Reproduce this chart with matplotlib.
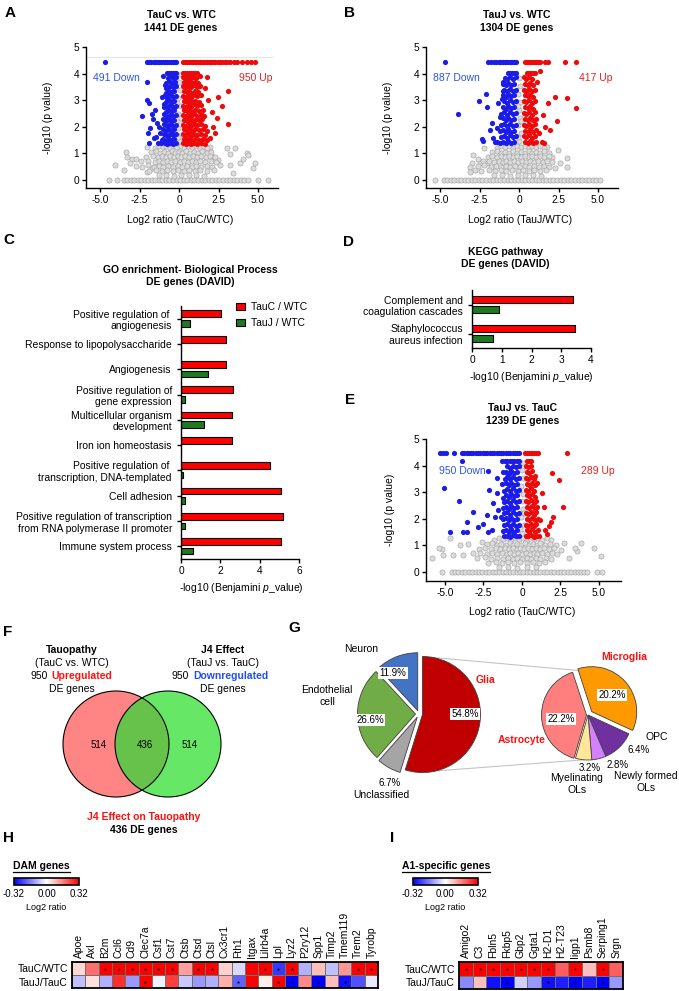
import numpy as np
import matplotlib
matplotlib.use("Agg")
import matplotlib.pyplot as plt
from matplotlib.patches import Circle, Patch
from matplotlib.lines import Line2D
from matplotlib.colors import Normalize
from matplotlib.cm import ScalarMappable

plt.rcParams['font.family'] = ['Liberation Sans', 'DejaVu Sans']
plt.rcParams['mathtext.fontset'] = 'custom'
plt.rcParams['mathtext.rm'] = 'Liberation Sans'
plt.rcParams['mathtext.it'] = 'Liberation Sans:italic'
plt.rcParams['axes.unicode_minus'] = False

# ======================= DATA =======================
# ---- Panel A: TauC vs WTC volcano ----
A_zero_x = [-4.47, -3.94, -3.52, -3.31, -3.06, -2.86, -2.61, -2.42, -2.17, -1.96, -1.71, -1.52, -1.27,
            -1.06, -0.82, -0.61, -0.37, -0.16, 0.08, 0.31, 0.52, 0.77, 0.96, 1.21, 1.43, 1.64, 1.89, 2.08,
            2.33, 2.55, 2.76, 3.02, 3.21, 3.46, 3.67, 3.92, 4.13, 4.39, 5.0, 5.65]
A_ns = [(-3.35, 1.07), (-3.31, 0.88), (-3.0, 0.78), (-2.72, 0.78), (-4.05, 0.56), (-3.52, 0.38), (-3.14, 0.63),
        (-2.05, 1.25), (-2.36, 0.5), (-2.05, 0.31), (-1.73, 0.44), (3.02, 1.19), (3.54, 1.19), (3.23, 0.98),
        (4.28, 1.03), (4.39, 0.94), (3.86, 0.63), (4.03, 0.78), (3.23, 0.56), (4.81, 0.63), (4.7, 0.44),
        (2.49, 0.75), (1.96, 1.25), (2.17, 0.88), (2.6, 0.56), (3.44, 0.25),
        (-1.55, 1.22), (-1.3, 1.28), (-1.05, 1.24), (-0.85, 1.27), (-0.6, 1.22), (-0.4, 1.26), (-0.15, 1.23),
        (0.1, 1.27), (0.3, 1.22), (0.55, 1.26), (0.8, 1.23), (1.05, 1.27), (1.3, 1.22), (1.6, 1.25), (1.8, 1.2),
        (-1.8, 1.05), (-1.45, 1.08), (-1.2, 1.02), (-0.95, 1.07), (-0.7, 1.03), (-0.45, 1.08), (-0.25, 1.02),
        (0.0, 1.06), (0.2, 1.03), (0.45, 1.08), (0.7, 1.02), (0.95, 1.06), (1.2, 1.03), (1.45, 1.08),
        (1.75, 1.02), (2.0, 1.06),
        (-2.1, 0.88), (-1.65, 0.9), (-1.35, 0.86), (-1.1, 0.9), (-0.85, 0.86), (-0.6, 0.9), (-0.35, 0.86),
        (-0.1, 0.9), (0.15, 0.86), (0.4, 0.9), (0.65, 0.86), (0.9, 0.9), (1.15, 0.86), (1.4, 0.9), (1.7, 0.86),
        (1.95, 0.92), (2.3, 0.85),
        (-2.4, 0.7), (-1.95, 0.72), (-1.55, 0.68), (-1.25, 0.72), (-1.0, 0.68), (-0.75, 0.72), (-0.5, 0.68),
        (-0.25, 0.72), (0.05, 0.68), (0.3, 0.72), (0.55, 0.68), (0.8, 0.72), (1.05, 0.68), (1.35, 0.72),
        (1.65, 0.68), (2.0, 0.72), (2.35, 0.66),
        (-2.7, 0.52), (-2.0, 0.55), (-1.6, 0.5), (-1.3, 0.54), (-1.0, 0.5), (-0.7, 0.54), (-0.4, 0.5),
        (-0.1, 0.54), (0.2, 0.5), (0.5, 0.54), (0.8, 0.5), (1.1, 0.54), (1.4, 0.5), (1.75, 0.54), (2.1, 0.5),
        (-1.9, 0.35), (-1.45, 0.38), (-1.1, 0.33), (-0.75, 0.37), (-0.4, 0.33), (-0.05, 0.37), (0.3, 0.33),
        (0.65, 0.37), (1.0, 0.33), (1.35, 0.37), (1.75, 0.33), (2.2, 0.36),
        (-1.3, 0.18), (-0.8, 0.2), (-0.35, 0.16), (0.15, 0.2), (0.6, 0.17), (1.1, 0.2), (1.6, 0.16),
        (0.02, 1.45), (0.12, 1.7), (-0.08, 1.95), (0.06, 2.2), (-0.04, 2.5), (0.1, 2.8), (-0.06, 3.1),
        (0.04, 3.4), (0.0, 3.7), (0.1, 4.0), (-0.1, 1.6), (0.14, 2.35), (-0.12, 2.9)]
A_down = [(-4.68, 4.42), (-2.05, 4.42), (-1.92, 4.42), (-1.78, 4.42), (-1.62, 4.42), (-1.5, 4.42), (-1.38, 4.42),
          (-1.25, 4.42), (-1.12, 4.42), (-1.0, 4.42), (-0.88, 4.42), (-0.76, 4.42), (-0.64, 4.42), (-0.52, 4.42),
          (-0.4, 4.42), (-0.28, 4.42), (-0.2, 4.42),
          (-0.78, 4.02), (-0.65, 4.02), (-0.52, 4.02), (-0.4, 4.02), (-0.28, 4.02), (-0.2, 4.02),
          (-2.05, 3.7), (-0.99, 3.91), (-2.05, 3.0), (-1.9, 2.88), (-2.32, 2.41), (-1.1, 3.11), (-1.67, 2.28),
          (-1.84, 1.94), (-1.94, 1.75), (-1.62, 1.57), (-1.88, 1.4), (-1.2, 1.75), (-1.31, 1.38), (-1.41, 2.13),
          (-0.95, 2.76), (-0.82, 3.45), (-1.52, 2.63), (-1.73, 2.5), (-1.05, 2.3), (-1.25, 2.0), (-1.45, 1.6),
          (-1.1, 1.5),
          (-0.22, 3.88), (-0.38, 3.84), (-0.55, 3.9), (-0.7, 3.82),
          (-0.28, 3.7), (-0.45, 3.66), (-0.62, 3.72), (-0.8, 3.64),
          (-0.22, 3.52), (-0.4, 3.5), (-0.58, 3.55), (-0.75, 3.48), (-0.9, 3.56),
          (-0.3, 3.34), (-0.48, 3.3), (-0.66, 3.36), (-0.84, 3.28),
          (-0.22, 3.16), (-0.4, 3.12), (-0.58, 3.18), (-0.76, 3.1), (-0.92, 3.2),
          (-0.3, 2.98), (-0.48, 2.94), (-0.66, 3.0), (-0.84, 2.92),
          (-0.22, 2.8), (-0.4, 2.76), (-0.58, 2.82), (-0.76, 2.74), (-0.94, 2.84),
          (-0.3, 2.62), (-0.48, 2.58), (-0.66, 2.64), (-0.84, 2.56),
          (-0.22, 2.44), (-0.4, 2.4), (-0.58, 2.46), (-0.76, 2.38), (-0.96, 2.48),
          (-0.3, 2.26), (-0.48, 2.22), (-0.66, 2.28), (-0.84, 2.2),
          (-0.22, 2.08), (-0.4, 2.04), (-0.58, 2.1), (-0.76, 2.02), (-0.98, 2.12),
          (-0.3, 1.9), (-0.48, 1.86), (-0.66, 1.92), (-0.84, 1.84), (-1.02, 1.9),
          (-0.22, 1.72), (-0.4, 1.68), (-0.58, 1.74), (-0.76, 1.66), (-0.94, 1.72),
          (-0.3, 1.54), (-0.48, 1.5), (-0.66, 1.56), (-0.84, 1.48), (-1.0, 1.55),
          (-0.22, 1.38), (-0.4, 1.36), (-0.58, 1.4), (-0.76, 1.35), (-0.92, 1.38), (-1.15, 1.4)]
A_up = [(0.27, 4.42), (0.4, 4.42), (0.5, 4.42), (0.6, 4.42), (0.7, 4.42), (0.8, 4.42), (0.9, 4.42), (1.0, 4.42),
        (1.1, 4.42), (1.2, 4.42), (1.3, 4.42), (1.4, 4.42), (1.5, 4.42), (1.6, 4.42), (1.7, 4.42), (1.8, 4.42),
        (1.9, 4.42), (2.0, 4.42), (2.1, 4.42), (2.2, 4.42), (2.3, 4.42), (2.45, 4.42), (2.6, 4.42), (2.75, 4.42),
        (2.9, 4.42), (3.05, 4.42), (3.2, 4.42), (3.45, 4.42), (3.7, 4.42), (4.0, 4.42), (4.3, 4.42), (4.55, 4.42),
        (4.8, 4.42),
        (0.27, 4.02), (0.4, 4.02), (0.52, 4.02), (0.65, 4.02), (0.78, 4.02), (0.9, 4.02), (1.02, 4.02), (1.12, 4.02),
        (3.12, 3.35), (2.49, 3.13), (2.7, 2.78), (3.12, 2.1), (1.75, 3.88), (1.33, 3.91), (2.17, 2.0), (2.38, 2.32),
        (1.96, 1.57), (2.28, 1.75), (1.65, 3.45), (1.86, 3.0), (1.43, 2.44), (2.07, 2.57),
        (0.28, 3.88), (0.42, 3.84), (0.58, 3.9), (0.74, 3.82), (0.9, 3.86), (1.1, 3.84),
        (0.3, 3.7), (0.46, 3.66), (0.62, 3.72), (0.8, 3.64), (0.98, 3.7), (1.2, 3.66),
        (0.28, 3.52), (0.44, 3.5), (0.6, 3.55), (0.78, 3.48), (0.96, 3.56), (1.15, 3.5), (1.35, 3.55),
        (0.3, 3.34), (0.48, 3.3), (0.66, 3.36), (0.84, 3.28), (1.02, 3.34), (1.22, 3.3),
        (0.28, 3.16), (0.44, 3.12), (0.6, 3.18), (0.78, 3.1), (0.96, 3.2), (1.16, 3.14), (1.4, 3.18),
        (0.3, 2.98), (0.48, 2.94), (0.66, 3.0), (0.84, 2.92), (1.02, 2.98), (1.24, 2.94),
        (0.28, 2.8), (0.44, 2.76), (0.6, 2.82), (0.78, 2.74), (0.96, 2.84), (1.16, 2.78), (1.38, 2.82),
        (0.3, 2.62), (0.48, 2.58), (0.66, 2.64), (0.84, 2.56), (1.02, 2.62), (1.24, 2.6), (1.5, 2.64),
        (0.28, 2.44), (0.44, 2.4), (0.6, 2.46), (0.78, 2.38), (0.96, 2.48), (1.16, 2.42), (1.38, 2.46), (1.6, 2.4),
        (0.3, 2.26), (0.48, 2.22), (0.66, 2.28), (0.84, 2.2), (1.02, 2.26), (1.24, 2.24), (1.48, 2.28),
        (0.28, 2.08), (0.44, 2.04), (0.6, 2.1), (0.78, 2.02), (0.96, 2.1), (1.16, 2.06), (1.38, 2.1), (1.62, 2.04),
        (0.3, 1.9), (0.48, 1.86), (0.66, 1.92), (0.84, 1.84), (1.02, 1.9), (1.24, 1.88), (1.5, 1.92), (1.78, 1.86),
        (0.28, 1.72), (0.44, 1.68), (0.6, 1.74), (0.78, 1.66), (0.96, 1.72), (1.16, 1.7), (1.38, 1.74), (1.64, 1.68),
        (0.3, 1.54), (0.48, 1.5), (0.66, 1.56), (0.84, 1.48), (1.02, 1.54), (1.24, 1.52), (1.5, 1.56), (1.8, 1.5),
        (0.28, 1.38), (0.44, 1.36), (0.6, 1.4), (0.78, 1.35), (0.96, 1.38), (1.16, 1.36), (1.4, 1.4), (1.66, 1.36)]

# ---- Panel B: TauJ vs WTC volcano ----
B_zero_x = [-5.32, -4.79, -4.57, -4.33, -4.12, -3.88, -3.67, -3.43, -3.22, -2.98, -2.77, -2.53, -2.32, -2.08,
            -1.87, -1.63, -1.42, -1.18, -0.97, -0.73, -0.52, -0.28, -0.07, 0.17, 0.38, 0.62, 0.83, 1.07, 1.28,
            1.52, 1.73, 1.97, 2.18, 2.42, 2.63, 2.87, 3.08, 3.32, 3.53, 3.77, 3.98, 4.22, 4.43, 4.67, 4.9, 5.13]
B_ns = [(-2.89, 0.94), (-3.0, 0.63), (-3.1, 0.5), (-2.78, 0.38), (-2.47, 0.63), (-2.05, 0.63), (-3.14, 0.31),
        (2.49, 1.13), (2.6, 0.63), (3.02, 0.81), (3.02, 0.5), (1.75, 1.25), (2.07, 0.88), (2.28, 0.44),
        (-2.2, 1.2), (-2.6, 0.8),
        (-1.4, 1.22), (-1.15, 1.27), (-0.9, 1.23), (-0.65, 1.27), (-0.4, 1.22), (-0.15, 1.26), (0.1, 1.23),
        (0.35, 1.27), (0.6, 1.22), (0.85, 1.26), (1.1, 1.23), (1.35, 1.27), (1.6, 1.22),
        (-1.7, 1.05), (-1.4, 1.08), (-1.15, 1.02), (-0.9, 1.07), (-0.65, 1.03), (-0.4, 1.08), (-0.15, 1.02),
        (0.1, 1.06), (0.35, 1.03), (0.6, 1.08), (0.85, 1.02), (1.1, 1.06), (1.35, 1.03), (1.6, 1.08), (1.9, 1.02),
        (-2.0, 0.88), (-1.7, 0.9), (-1.4, 0.86), (-1.15, 0.9), (-0.9, 0.86), (-0.65, 0.9), (-0.4, 0.86),
        (-0.15, 0.9), (0.1, 0.86), (0.35, 0.9), (0.6, 0.86), (0.85, 0.9), (1.1, 0.86), (1.35, 0.9), (1.6, 0.86),
        (1.9, 0.9),
        (-2.3, 0.7), (-1.9, 0.72), (-1.6, 0.68), (-1.3, 0.72), (-1.05, 0.68), (-0.8, 0.72), (-0.55, 0.68),
        (-0.3, 0.72), (-0.05, 0.68), (0.2, 0.72), (0.45, 0.68), (0.7, 0.72), (0.95, 0.68), (1.2, 0.72),
        (1.5, 0.68), (1.8, 0.72), (2.1, 0.68),
        (-2.6, 0.52), (-2.2, 0.55), (-1.8, 0.5), (-1.45, 0.54), (-1.15, 0.5), (-0.85, 0.54), (-0.55, 0.5),
        (-0.25, 0.54), (0.05, 0.5), (0.35, 0.54), (0.65, 0.5), (0.95, 0.54), (1.25, 0.5), (1.55, 0.54), (1.9, 0.5),
        (-2.4, 0.35), (-1.9, 0.38), (-1.5, 0.33), (-1.15, 0.37), (-0.8, 0.33), (-0.45, 0.37), (-0.1, 0.33),
        (0.25, 0.37), (0.6, 0.33), (0.95, 0.37), (1.3, 0.33), (1.7, 0.37),
        (-1.6, 0.18), (-1.1, 0.2), (-0.6, 0.16), (-0.1, 0.2), (0.4, 0.17), (0.9, 0.2), (1.4, 0.16),
        (0.02, 1.45), (0.1, 1.75), (-0.06, 2.05), (0.05, 2.35), (-0.02, 2.65), (0.08, 2.95), (-0.05, 3.25),
        (0.04, 3.55), (0.0, 3.85), (-0.1, 1.6), (0.12, 2.2), (-0.1, 2.8)]
B_down = [(-4.68, 4.42), (-1.94, 4.42), (-1.8, 4.42), (-1.6, 4.42), (-1.45, 4.42), (-1.3, 4.42), (-1.2, 4.42),
          (-1.1, 4.42), (-1.0, 4.42), (-0.9, 4.42), (-0.8, 4.42), (-0.7, 4.42), (-0.6, 4.42), (-0.5, 4.42),
          (-0.4, 4.42), (-0.3, 4.42), (-0.22, 4.42),
          (-0.7, 4.02), (-0.58, 4.02), (-0.45, 4.02), (-0.32, 4.02), (-0.22, 4.02),
          (-3.84, 2.5), (-2.57, 2.97), (-2.11, 3.25), (-2.05, 2.73), (-1.73, 2.13), (-1.84, 1.88), (-1.67, 1.57),
          (-2.36, 1.53), (-2.3, 1.47), (-1.03, 3.36), (-1.1, 3.03), (-1.35, 2.88), (-1.24, 2.38), (-1.41, 1.94),
          (-1.52, 1.44), (-0.99, 3.7),
          (-0.22, 3.86), (-0.4, 3.8), (-0.58, 3.88), (-0.76, 3.78), (-0.92, 3.84),
          (-0.3, 3.62), (-0.5, 3.58), (-0.68, 3.66), (-0.86, 3.56), (-1.02, 3.62),
          (-0.22, 3.4), (-0.4, 3.36), (-0.58, 3.44), (-0.76, 3.34), (-0.94, 3.4),
          (-0.3, 3.18), (-0.5, 3.14), (-0.68, 3.22), (-0.86, 3.12), (-1.04, 3.2),
          (-0.22, 2.96), (-0.4, 2.92), (-0.58, 3.0), (-0.76, 2.9), (-0.94, 2.98),
          (-0.3, 2.74), (-0.5, 2.7), (-0.68, 2.78), (-0.86, 2.68), (-1.04, 2.76),
          (-0.22, 2.52), (-0.4, 2.48), (-0.58, 2.56), (-0.76, 2.46), (-0.94, 2.54), (-1.12, 2.5),
          (-0.3, 2.3), (-0.5, 2.26), (-0.68, 2.34), (-0.86, 2.24), (-1.04, 2.32),
          (-0.22, 2.08), (-0.4, 2.04), (-0.58, 2.12), (-0.76, 2.02), (-0.94, 2.1), (-1.14, 2.06),
          (-0.3, 1.86), (-0.5, 1.82), (-0.68, 1.9), (-0.86, 1.8), (-1.04, 1.88), (-1.22, 1.84),
          (-0.22, 1.64), (-0.4, 1.6), (-0.58, 1.68), (-0.76, 1.58), (-0.94, 1.66), (-1.14, 1.62),
          (-0.3, 1.44), (-0.5, 1.4), (-0.68, 1.46), (-0.86, 1.38), (-1.04, 1.44), (-1.24, 1.4), (-1.42, 1.42)]
B_up = [(0.38, 4.42), (0.48, 4.42), (0.58, 4.42), (0.68, 4.42), (0.78, 4.42), (0.88, 4.42), (0.98, 4.42),
        (1.1, 4.42), (1.22, 4.42), (1.33, 4.42), (1.65, 4.42), (1.86, 4.42), (2.91, 4.42), (3.61, 4.42),
        (0.5, 4.02), (0.62, 4.02), (0.75, 4.02), (0.88, 4.02), (1.0, 4.02),
        (1.33, 4.11), (1.12, 3.7), (2.28, 3.13), (3.06, 3.1), (3.61, 2.69), (1.86, 2.88), (1.54, 2.44),
        (2.38, 2.23), (1.65, 2.0), (1.96, 1.88), (1.43, 1.44), (1.58, 1.38), (1.29, 1.75),
        (0.3, 3.86), (0.46, 3.8), (0.62, 3.88), (0.8, 3.8),
        (0.36, 3.62), (0.54, 3.58), (0.72, 3.66), (0.9, 3.56),
        (0.3, 3.4), (0.46, 3.36), (0.62, 3.44), (0.8, 3.34), (0.98, 3.4),
        (0.36, 3.18), (0.54, 3.14), (0.72, 3.22), (0.9, 3.12),
        (0.3, 2.96), (0.46, 2.92), (0.62, 3.0), (0.8, 2.9), (1.0, 2.98),
        (0.36, 2.74), (0.54, 2.7), (0.72, 2.78), (0.9, 2.68),
        (0.3, 2.52), (0.46, 2.48), (0.62, 2.56), (0.8, 2.46), (1.0, 2.54),
        (0.36, 2.3), (0.54, 2.26), (0.72, 2.34), (0.9, 2.24), (1.08, 2.3),
        (0.3, 2.08), (0.46, 2.04), (0.62, 2.12), (0.8, 2.02), (1.0, 2.1),
        (0.36, 1.86), (0.54, 1.82), (0.72, 1.9), (0.9, 1.8), (1.1, 1.88),
        (0.3, 1.64), (0.46, 1.6), (0.62, 1.68), (0.8, 1.58), (1.0, 1.66),
        (0.36, 1.44), (0.54, 1.4), (0.72, 1.46), (0.9, 1.38), (1.08, 1.44)]

# ---- Panel E: TauJ vs TauC volcano ----
E_zero_x = [-5.22, -4.57, -4.35, -4.12, -3.91, -3.68, -3.46, -3.24, -3.01, -2.8, -2.57, -2.35, -2.13, -1.9,
            -1.69, -1.46, -1.24, -1.02, -0.79, -0.58, -0.35, -0.13, 0.09, 0.32, 0.53, 0.76, 0.98, 1.2, 1.43,
            1.64, 1.87, 2.09, 2.31, 2.54, 2.75, 2.98, 3.2, 3.42, 3.65, 3.86, 4.05, 4.2, 4.85, 5.17]
E_ns = [(-5.87, 0.51), (-5.22, 0.86), (-4.46, 0.64), (-4.03, 1.02), (-3.49, 1.06), (-3.81, 0.64), (-5.1, 0.64),
        (4.69, 0.89), (5.13, 0.6), (3.82, 1.08), (3.6, 0.77), (3.06, 0.51), (2.52, 0.83), (-5.37, 0.89),
        (-4.67, 1.27), (-2.61, 1.14), (2.7, 1.08), (3.46, 0.89),
        (-1.8, 1.22), (-1.5, 1.27), (-1.2, 1.23), (-0.95, 1.27), (-0.7, 1.22), (-0.45, 1.26), (-0.2, 1.23),
        (0.05, 1.27), (0.3, 1.22), (0.55, 1.26), (0.8, 1.23), (1.05, 1.27), (1.3, 1.22), (1.6, 1.26), (1.9, 1.2),
        (-2.3, 1.05), (-1.95, 1.08), (-1.65, 1.02), (-1.35, 1.07), (-1.05, 1.03), (-0.8, 1.08), (-0.55, 1.02),
        (-0.3, 1.06), (-0.05, 1.03), (0.2, 1.08), (0.45, 1.02), (0.7, 1.06), (0.95, 1.03), (1.2, 1.08),
        (1.5, 1.02), (1.8, 1.06), (2.2, 1.02),
        (-2.8, 0.88), (-2.4, 0.9), (-2.0, 0.86), (-1.7, 0.9), (-1.4, 0.86), (-1.1, 0.9), (-0.85, 0.86),
        (-0.6, 0.9), (-0.35, 0.86), (-0.1, 0.9), (0.15, 0.86), (0.4, 0.9), (0.65, 0.86), (0.9, 0.9),
        (1.15, 0.86), (1.45, 0.9), (1.75, 0.86), (2.1, 0.9),
        (-3.2, 0.7), (-2.7, 0.72), (-2.3, 0.68), (-1.95, 0.72), (-1.6, 0.68), (-1.3, 0.72), (-1.0, 0.68),
        (-0.75, 0.72), (-0.5, 0.68), (-0.25, 0.72), (0.0, 0.68), (0.25, 0.72), (0.5, 0.68), (0.75, 0.72),
        (1.0, 0.68), (1.3, 0.72), (1.6, 0.68), (1.95, 0.72), (2.3, 0.68),
        (-2.9, 0.52), (-2.4, 0.55), (-2.0, 0.5), (-1.6, 0.54), (-1.25, 0.5), (-0.9, 0.54), (-0.6, 0.5),
        (-0.3, 0.54), (0.0, 0.5), (0.3, 0.54), (0.6, 0.5), (0.9, 0.54), (1.2, 0.5), (1.55, 0.54), (1.9, 0.5),
        (-2.2, 0.35), (-1.7, 0.38), (-1.3, 0.33), (-0.9, 0.37), (-0.5, 0.33), (-0.1, 0.37), (0.3, 0.33),
        (0.7, 0.37), (1.1, 0.33), (1.5, 0.37),
        (-1.5, 0.18), (-0.9, 0.2), (-0.3, 0.16), (0.3, 0.2), (0.9, 0.17),
        (0.02, 1.45), (0.1, 1.75), (-0.06, 2.05), (0.05, 2.35), (-0.02, 2.65), (0.08, 2.95), (-0.05, 3.25),
        (0.04, 3.55), (0.0, 3.85), (0.06, 4.1), (-0.1, 1.6), (0.12, 2.2)]
E_down = [(-5.32, 4.49), (-5.1, 4.49), (-4.9, 4.49), (-4.4, 4.49), (-3.9, 4.49), (-3.75, 4.49), (-3.6, 4.49),
          (-3.45, 4.49), (-3.3, 4.49), (-3.15, 4.49), (-3.0, 4.49), (-2.85, 4.49), (-2.7, 4.49), (-2.55, 4.49),
          (-2.4, 4.49), (-2.25, 4.49), (-2.1, 4.49), (-1.95, 4.49), (-1.8, 4.49), (-1.65, 4.49), (-1.5, 4.49),
          (-1.35, 4.49), (-1.2, 4.49), (-1.05, 4.49), (-0.9, 4.49), (-0.75, 4.49), (-0.6, 4.49), (-0.45, 4.49),
          (-0.3, 4.49), (-0.22, 4.49),
          (-3.87, 4.18), (-1.27, 4.18), (-1.1, 4.18), (-0.95, 4.18), (-0.8, 4.18), (-0.65, 4.18), (-0.5, 4.18),
          (-0.35, 4.18), (-0.22, 4.18),
          (-5.06, 3.15), (-4.09, 2.68), (-3.2, 2.27), (-3.59, 1.89), (-4.67, 1.51), (-3.81, 1.51), (-3.59, 1.51),
          (-2.84, 1.7), (-2.56, 1.82), (-2.15, 3.1), (-2.29, 2.14), (-1.85, 2.58), (-1.64, 2.96), (-2.19, 1.51),
          (-1.97, 1.57), (-1.75, 2.08), (-1.53, 2.33), (-1.25, 3.77), (-0.99, 3.71), (-2.19, 3.8), (-1.64, 3.55),
          (-1.32, 3.3), (-1.21, 2.8), (-1.38, 2.08),
          (-0.22, 3.98), (-0.4, 3.94), (-0.58, 4.0), (-0.76, 3.92), (-0.94, 3.98),
          (-0.3, 3.76), (-0.5, 3.72), (-0.68, 3.8), (-0.86, 3.7), (-1.04, 3.76),
          (-0.22, 3.54), (-0.4, 3.5), (-0.58, 3.58), (-0.76, 3.48), (-0.94, 3.56), (-1.12, 3.5),
          (-0.3, 3.32), (-0.5, 3.28), (-0.68, 3.36), (-0.86, 3.26), (-1.04, 3.34),
          (-0.22, 3.1), (-0.4, 3.06), (-0.58, 3.14), (-0.76, 3.04), (-0.94, 3.12), (-1.14, 3.06),
          (-0.3, 2.88), (-0.5, 2.84), (-0.68, 2.92), (-0.86, 2.82), (-1.04, 2.9),
          (-0.22, 2.66), (-0.4, 2.62), (-0.58, 2.7), (-0.76, 2.6), (-0.94, 2.68), (-1.14, 2.64),
          (-0.3, 2.44), (-0.5, 2.4), (-0.68, 2.48), (-0.86, 2.38), (-1.04, 2.46), (-1.24, 2.42),
          (-0.22, 2.22), (-0.4, 2.18), (-0.58, 2.26), (-0.76, 2.16), (-0.94, 2.24), (-1.14, 2.2),
          (-0.3, 2.0), (-0.5, 1.96), (-0.68, 2.04), (-0.86, 1.94), (-1.04, 2.02), (-1.24, 1.98),
          (-0.22, 1.78), (-0.4, 1.74), (-0.58, 1.82), (-0.76, 1.72), (-0.94, 1.8), (-1.14, 1.76),
          (-0.3, 1.56), (-0.5, 1.52), (-0.68, 1.6), (-0.86, 1.5), (-1.04, 1.58), (-1.24, 1.54),
          (-0.22, 1.36), (-0.4, 1.34), (-0.58, 1.38), (-0.76, 1.32), (-0.94, 1.36), (-1.14, 1.34)]
E_up = [(0.2, 4.49), (0.32, 4.49), (0.44, 4.49), (0.56, 4.49), (0.68, 4.49), (0.8, 4.49), (0.92, 4.49),
        (1.05, 4.49), (2.9, 4.49),
        (0.3, 4.18), (0.45, 4.18), (0.6, 4.18),
        (0.84, 3.61), (1.93, 3.74), (2.43, 3.47), (2.65, 2.43), (1.99, 2.08), (1.88, 1.86), (1.73, 1.73),
        (1.3, 2.96), (1.41, 2.46), (1.19, 1.96), (1.52, 1.58), (1.62, 1.44), (0.97, 3.34),
        (0.26, 3.98), (0.42, 3.94), (0.58, 4.0),
        (0.3, 3.76), (0.48, 3.72), (0.66, 3.8),
        (0.26, 3.54), (0.42, 3.5), (0.58, 3.58), (0.76, 3.48),
        (0.3, 3.32), (0.48, 3.28), (0.66, 3.36), (0.84, 3.26),
        (0.26, 3.1), (0.42, 3.06), (0.58, 3.14), (0.76, 3.04),
        (0.3, 2.88), (0.48, 2.84), (0.66, 2.92), (0.84, 2.82),
        (0.26, 2.66), (0.42, 2.62), (0.58, 2.7), (0.76, 2.6), (0.94, 2.66),
        (0.3, 2.44), (0.48, 2.4), (0.66, 2.48), (0.84, 2.38), (1.0, 2.44),
        (0.26, 2.22), (0.42, 2.18), (0.58, 2.26), (0.76, 2.16), (0.94, 2.24),
        (0.3, 2.0), (0.48, 1.96), (0.66, 2.04), (0.84, 1.94), (1.02, 2.0),
        (0.26, 1.78), (0.42, 1.74), (0.58, 1.82), (0.76, 1.72), (0.94, 1.8),
        (0.3, 1.56), (0.48, 1.52), (0.66, 1.6), (0.84, 1.5), (1.02, 1.56),
        (0.26, 1.36), (0.42, 1.34), (0.58, 1.38), (0.76, 1.32), (0.94, 1.36), (1.12, 1.34)]

# ---- Panel C: GO enrichment ----
go_terms = ['Positive regulation of \nangiogenesis', 'Response to lipopolysaccharide', 'Angiogenesis',
            'Positive regulation of\ngene expression', 'Multicellular organism\ndevelopment',
            'Iron ion homeostasis', 'Positive regulation of \ntranscription, DNA-templated', 'Cell adhesion',
            'Positive regulation of transcription\nfrom RNA polymerase II promoter', 'Immune system process']
go_tauc = [2.03, 2.28, 2.28, 2.62, 2.58, 2.6, 4.53, 5.1, 5.2, 5.1]
go_tauj = [0.46, 0.02, 1.38, 0.2, 1.17, 0.02, 0.1, 0.2, 0.2, 0.6]

# ---- Panel D: KEGG ----
kegg_terms = ['Complement and\ncoagulation cascades', 'Staphylococcus\naureus infection']
kegg_tauc = [3.39, 3.45]
kegg_tauj = [0.9, 0.7]

# ---- Panel F: Venn ----
venn_counts = [514, 436, 514]

# ---- Panel G: pies ----
cell_labels = ['Glia', 'Unclassified', 'Endothelial\ncell', 'Neuron']
cell_pct = [54.8, 6.7, 26.6, 11.9]
glia_labels = ['Microglia', 'OPC', 'Newly formed\nOLs', 'Myelinating\nOLs', 'Astrocyte']
glia_pct = [20.2, 6.4, 2.8, 3.2, 22.2]

# ---- Panel H: DAM genes heatmap ----
dam_genes = ['Apoe', 'Axl', 'B2m', 'Ccl6', 'Cd9', 'Clec7a', 'Csf1', 'Cst7', 'Ctsb', 'Ctsd', 'Ctsl', 'Cx3cr1',
             'Fth1', 'Itgax', 'Lilrb4a', 'Lpl', 'Lyz2', 'P2ry12', 'Spp1', 'Timp2', 'Tmem119', 'Trem2', 'Tyrobp']
dam_tauc = [0.05, 0.18, 0.32, 0.32, 0.32, 0.32, 0.32, 0.32, 0.12, 0.32, 0.32, 0.06, -0.05, 0.32, 0.32, -0.25,
            0.32, -0.1, 0.08, -0.08, 0.13, 0.32, 0.32]
dam_tauj = [-0.08, 0.04, -0.1, 0.26, -0.13, 0.32, -0.02, 0.24, -0.07, -0.13, -0.1, 0.1, -0.2, 0.32, 0.02, 0.32,
            -0.32, 0.15, -0.32, 0.08, -0.3, -0.22, -0.03]
dam_sig_tauc = [0, 0, 1, 1, 1, 1, 1, 1, 0, 1, 1, 0, 0, 0, 1, 1, 1, 0, 0, 0, 0, 1, 1]
dam_sig_tauj = [0, 0, 0, 0, 0, 1, 0, 0, 0, 0, 0, 0, 1, 0, 0, 1, 1, 0, 1, 0, 1, 0, 0]

# ---- Panel I: A1-specific genes heatmap ----
a1_genes = ['Amigo2', 'C3', 'Fbln5', 'Fkbp5', 'Gbp2', 'Ggta1', 'H2-D1', 'H2-T23', 'Iigp1', 'Psmb8',
            'Serping1', 'Srgn']
a1_tauc = [0.32, 0.32, 0.32, 0.32, 0.32, 0.32, 0.32, 0.2, 0.32, 0.08, 0.32, 0.2]
a1_tauj = [-0.15, 0.08, -0.3, -0.32, -0.06, -0.13, -0.3, -0.28, -0.32, -0.28, -0.32, -0.13]
a1_sig_tauc = [1, 1, 1, 1, 1, 1, 1, 0, 1, 0, 1, 0]
a1_sig_tauj = [0, 0, 0, 1, 0, 0, 1, 0, 1, 0, 1, 0]
row_names = ['TauC/WTC', 'TauJ/TauC']

# ======================= STYLE / LAYOUT =======================
W, H = 679, 991
fig = plt.figure(figsize=(W / 100, H / 100), dpi=100)

RED = '#ee0a0a'
BLUE = '#1c1ce8'
BLUE_T = '#2a56e8'
RED_T = '#e82020'
BAR_RED = '#ff0000'
BAR_GREEN = '#1e7a1e'
GRAY_F = '#dcdcdc'
GRAY_E = '#9c9c9c'
FS = 7.5
MS = 14


def rect(l, t, r, b):
    return [l / W, 1 - b / H, (r - l) / W, (b - t) / H]


def ftext(x, y, s, **kw):
    kw.setdefault('ha', 'center')
    kw.setdefault('va', 'center')
    kw.setdefault('fontsize', FS)
    return fig.text(x / W, 1 - y / H, s, **kw)


def style_axes(ax):
    for s in ['top', 'right']:
        ax.spines[s].set_visible(False)
    for s in ['left', 'bottom']:
        ax.spines[s].set_linewidth(1.0)
    ax.tick_params(direction='out', length=3, width=1.0, labelsize=7.3, pad=2)


def volcano(box, xlim, ylim, zero_x, ns, down, up, dlab, ulab, lab_y, lab_x, hline=None):
    ax = fig.add_axes(rect(*box))
    ns = np.array(ns)
    down = np.array(down)
    up = np.array(up)
    if hline is not None:
        ax.axhline(hline, xmin=0, xmax=0.97, color='#e4e4e4', lw=0.8, zorder=0)
    ax.scatter(zero_x, np.zeros(len(zero_x)), s=MS, facecolor=GRAY_F, edgecolor=GRAY_E,
               linewidth=0.4, zorder=2, clip_on=False)
    ax.scatter(ns[:, 0], ns[:, 1], s=MS, facecolor=GRAY_F, edgecolor=GRAY_E, linewidth=0.4, zorder=2)
    ax.scatter(down[:, 0], down[:, 1], s=MS, color=BLUE, linewidth=0, zorder=3)
    ax.scatter(up[:, 0], up[:, 1], s=MS, color=RED, linewidth=0, zorder=3)
    ax.set_xlim(*xlim)
    ax.set_ylim(*ylim)
    ax.set_xticks([-5, -2.5, 0, 2.5, 5])
    ax.set_xticklabels(['-5.0', '-2.5', '0', '2.5', '5.0'])
    ax.set_yticks(range(6))
    style_axes(ax)
    ax.text(lab_x[0], lab_y, dlab, color=BLUE_T, ha='center', va='center', fontsize=FS)
    ax.text(lab_x[1], lab_y, ulab, color=RED_T, ha='center', va='center', fontsize=FS)
    return ax


# ---- panel letters ----
for letter, (x, y) in {'A': (10, 13), 'B': (350, 13), 'C': (9, 240), 'D': (349, 242), 'E': (350, 400),
                       'F': (8, 632), 'G': (294, 628), 'H': (9, 838), 'I': (392, 838)}.items():
    ftext(x, y, letter, fontsize=11, fontweight='bold')

# ---- A ----
volcano((86, 47, 278, 188), (-5.9, 6.27), (-0.3, 5.0), A_zero_x, A_ns, A_down, A_up,
        '491 Down', '950 Up', 3.83, (-4.0, 4.87), hline=4.62)
ftext(181, 15, 'TauC vs. WTC', fontweight='bold')
ftext(181, 28, '1441 DE genes', fontweight='bold')
ftext(180, 220, 'Log2 ratio (TauC/WTC)')
ftext(48, 118, '-log10 (p value)', rotation=90)

# ---- B ----
volcano((426, 47, 618, 188), (-5.9, 6.27), (-0.3, 5.0), B_zero_x, B_ns, B_down, B_up,
        '887 Down', '417 Up', 3.83, (-4.0, 4.87))
ftext(517, 15, 'TauJ vs. WTC', fontweight='bold')
ftext(517, 28, '1304 DE genes', fontweight='bold')
ftext(520, 220, 'Log2 ratio (TauJ/WTC)')
ftext(388, 118, '-log10 (p value)', rotation=90)

# ---- E ----
volcano((426, 439, 621, 581), (-6.23, 6.43), (-0.34, 5.0), E_zero_x, E_ns, E_down, E_up,
        '950 Down', '289 Up', 3.8, (-3.9, 4.94))
ftext(523, 408, 'TauJ vs. TauC', fontweight='bold')
ftext(523, 421, '1239 DE genes', fontweight='bold')
ftext(522, 612, 'Log2 ratio (TauC/WTC)')
ftext(390, 510, '-log10 (p value)', rotation=90)

# ---- C ----
axc = fig.add_axes(rect(181, 306, 299, 559))
yc = np.arange(len(go_terms))
axc.barh(yc - 0.19, go_tauc, height=0.27, color=BAR_RED, edgecolor='black', linewidth=0.8)
axc.barh(yc + 0.19, go_tauj, height=0.25, color=BAR_GREEN, edgecolor='black', linewidth=0.8)
axc.set_ylim(len(go_terms) - 0.5, -0.5)
axc.set_xlim(0, 6)
axc.set_xticks([0, 2, 4, 6])
axc.set_yticks(yc)
axc.set_yticklabels(go_terms, fontsize=FS)
style_axes(axc)
axc.tick_params(axis='y', pad=3.5, labelsize=FS)
ftext(190, 270, 'GO enrichment- Biological Process', fontweight='bold')
ftext(190, 282, 'DE genes (DAVID)', fontweight='bold')
ftext(241, 588, r'-log10 (Benjamini $\it{p}$_value)')
handles = [Patch(facecolor=BAR_RED, edgecolor='black', lw=0.8, label='TauC / WTC'),
           Patch(facecolor=BAR_GREEN, edgecolor='black', lw=0.8, label='TauJ / WTC')]
fig.legend(handles=handles, loc='upper left', bbox_to_anchor=(236 / W, 1 - 302 / H), frameon=False,
           fontsize=FS, handlelength=0.9, handleheight=0.6, handletextpad=0.5, labelspacing=0.62,
           borderpad=0, borderaxespad=0)

# ---- D ----
axd = fig.add_axes(rect(472, 290, 591, 348))
yd = np.arange(len(kegg_terms))
axd.barh(yd - 0.17, kegg_tauc, height=0.24, color=BAR_RED, edgecolor='black', linewidth=0.8)
axd.barh(yd + 0.17, kegg_tauj, height=0.22, color=BAR_GREEN, edgecolor='black', linewidth=0.8)
axd.set_ylim(len(kegg_terms) - 0.5, -0.5)
axd.set_xlim(0, 4)
axd.set_xticks([0, 1, 2, 3, 4])
axd.set_yticks(yd)
axd.set_yticklabels(kegg_terms, fontsize=FS)
style_axes(axd)
axd.tick_params(axis='y', pad=3.5, labelsize=FS)
ftext(505, 252, 'KEGG pathway', fontweight='bold')
ftext(505, 264, 'DE genes (DAVID)', fontweight='bold')
ftext(531, 377, r'-log10 (Benjamini $\it{p}$_value)')

# ---- F: Venn ----
axv = fig.add_axes(rect(0, 640, 250, 800))
axv.set_xlim(0, 250)
axv.set_ylim(H - 800, H - 640)
axv.axis('off')
vr = 53
cL_c = (116, H - 744)
cR_c = (168, H - 744)
cL = Circle(cL_c, vr, facecolor='#ff8585', edgecolor='none', zorder=1)
cR = Circle(cR_c, vr, facecolor='#66e866', edgecolor='none', zorder=1)
axv.add_patch(cL)
axv.add_patch(cR)
inter = Circle(cR_c, vr, facecolor='#66c24a', edgecolor='none', zorder=2)
axv.add_patch(inter)
inter.set_clip_path(cL)
axv.add_patch(Circle(cL_c, vr, fill=False, edgecolor='black', lw=0.8, zorder=3))
axv.add_patch(Circle(cR_c, vr, fill=False, edgecolor='black', lw=0.8, zorder=3))
for xv, cnt in zip([99, 145, 190], venn_counts):
    axv.text(xv, H - 745, str(cnt), ha='center', va='center', fontsize=7)
ftext(72, 650, 'Tauopathy', fontweight='bold')
ftext(72, 663, '(TauC vs. WTC)')
ftext(48, 676, '950', ha='right')
ftext(51, 676, 'Upregulated', ha='left', color='#ff1010', fontweight='bold')
ftext(72, 689, 'DE genes')
ftext(223, 650, 'J4 Effect', fontweight='bold')
ftext(223, 663, '(TauJ vs. TauC)')
ftext(189, 676, '950', ha='right')
ftext(193, 676, 'Downregulated', ha='left', color='#1f4ff5', fontweight='bold')
ftext(223, 689, 'DE genes')
ftext(144, 817, 'J4 Effect on Tauopathy', color='#ff1010', fontweight='bold')
ftext(144, 830, '436 DE genes', fontweight='bold')

# ---- G: pies ----
axp = fig.add_axes(rect(290, 640, 679, 800))
main_c = (419, H - 714)
main_r = 58
main_e = 3.5
axp.pie(cell_pct, colors=['#c00000', '#a5a5a5', '#70ad47', '#4472c4'], startangle=90, counterclock=False,
        center=main_c, radius=main_r, explode=[main_e] * 4,
        wedgeprops=dict(edgecolor='#404040', linewidth=0.6))
sub_c = (588, H - 715)
sub_r = 45
axp.pie(glia_pct, colors=['#ff9900', '#7030a0', '#d580ff', '#ffe699', '#ff7f7f'], startangle=108,
        counterclock=False, center=sub_c, radius=sub_r, explode=[5, 0, 0, 0, 1.5],
        wedgeprops=dict(edgecolor='#404040', linewidth=0.6))
tm = np.deg2rad(90 - cell_pct[0] / 100 * 180)
mx0 = main_c[0] + main_e * np.cos(tm)
my0 = main_c[1] + main_e * np.sin(tm)
a_top, a_bot = np.deg2rad(100), np.deg2rad(-95)
axp.plot([mx0, sub_c[0] + sub_r * np.cos(a_top)], [my0 + main_r, sub_c[1] + sub_r * np.sin(a_top)],
         color='#c4c4c4', lw=0.8, zorder=0)
axp.plot([mx0 + main_r * np.cos(a_bot), sub_c[0] + sub_r * np.cos(a_bot)],
         [my0 + main_r * np.sin(a_bot), sub_c[1] + sub_r * np.sin(a_bot)],
         color='#c4c4c4', lw=0.8, zorder=0)
axp.set_aspect('auto')
axp.set_xlim(290, 679)
axp.set_ylim(H - 800, H - 640)
axp.axis('off')

box = dict(facecolor='white', edgecolor='none', pad=1.0)
pct_fs = 7
ftext(465, 714, f'{cell_pct[0]:.1f}%', fontsize=pct_fs, bbox=box)
ftext(390, 783, f'{cell_pct[1]:.1f}%', fontsize=pct_fs)
ftext(370, 720, f'{cell_pct[2]:.1f}%', fontsize=pct_fs, bbox=box)
ftext(393, 673, f'{cell_pct[3]:.1f}%', fontsize=pct_fs, bbox=box)
ftext(486, 680, cell_labels[0], color='#ff1010', fontweight='bold')
ftext(381, 795, cell_labels[1])
ftext(327, 696, cell_labels[2])
ftext(361, 649, cell_labels[3])
ftext(612, 695, f'{glia_pct[0]:.1f}%', fontsize=pct_fs, bbox=box)
ftext(639, 750, f'{glia_pct[1]:.1f}%', fontsize=pct_fs)
ftext(618, 765, f'{glia_pct[2]:.1f}%', fontsize=pct_fs)
ftext(590, 768, f'{glia_pct[3]:.1f}%', fontsize=pct_fs)
ftext(561, 719, f'{glia_pct[4]:.1f}%', fontsize=pct_fs, bbox=box)
ftext(624, 657, glia_labels[0], color='#ff1010', fontweight='bold')
ftext(657, 737, glia_labels[1])
ftext(646, 782, glia_labels[2])
ftext(577, 784, glia_labels[3])
ftext(522, 740, glia_labels[4], color='#ff1010', fontweight='bold')

# ---- H / I heatmaps ----
norm = Normalize(vmin=-0.32, vmax=0.32)


def heatmap(box, genes, r1, r2, s1, s2):
    ax = fig.add_axes(rect(*box))
    M = np.array([r1, r2])
    ax.pcolormesh(M, cmap='bwr', norm=norm, edgecolors='#707070', linewidth=0.4)
    ax.set_xlim(0, len(genes))
    ax.set_ylim(2, 0)
    for row, sig in enumerate([s1, s2]):
        idx = np.nonzero(np.array(sig))[0]
        ax.scatter(idx + 0.5, np.full(len(idx), row + 0.5), marker='*', s=7, color='black',
                   linewidth=0, zorder=3)
    ax.set_xticks(np.arange(len(genes)) + 0.5)
    ax.set_xticklabels(genes, rotation=90, fontsize=FS)
    ax.xaxis.tick_top()
    ax.set_yticks([0.5, 1.5])
    ax.set_yticklabels(row_names, fontsize=FS)
    ax.tick_params(length=0, pad=3)
    for s in ax.spines.values():
        s.set_linewidth(1.3)
    return ax


def colorbar(box, title_x, title):
    cax = fig.add_axes(rect(*box))
    cb = fig.colorbar(ScalarMappable(norm=norm, cmap='bwr'), cax=cax, orientation='horizontal',
                      ticks=[-0.32, 0, 0.32])
    cb.set_ticklabels(['-0.32', '0.00', '0.32'])
    cb.ax.tick_params(labelsize=7, length=0, pad=3)
    cb.outline.set_linewidth(1.2)
    ftext((box[0] + box[2]) / 2, 908, 'Log2 ratio', fontsize=6.5)
    t = ftext(title_x, 866, title, ha='left', fontweight='bold')
    return t


heatmap((72, 962, 378, 988), dam_genes, dam_tauc, dam_tauj, dam_sig_tauc, dam_sig_tauj)
heatmap((459, 962, 623, 989), a1_genes, a1_tauc, a1_tauj, a1_sig_tauc, a1_sig_tauj)
t1 = colorbar((14, 878, 79, 885), 13, 'DAM genes')
t2 = colorbar((413, 878, 478, 885), 402, 'A1-specific genes')

fig.canvas.draw()
rend = fig.canvas.get_renderer()
for t in (t1, t2):
    bb = t.get_window_extent(rend)
    fig.add_artist(Line2D([bb.x0 / W, bb.x1 / W], [(bb.y0 - 0.5) / H] * 2, color='black', lw=0.9,
                          transform=fig.transFigure))

fig.savefig('out.png', dpi=100)
